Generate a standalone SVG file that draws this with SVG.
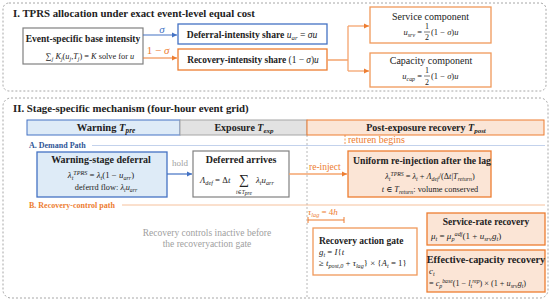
<svg xmlns="http://www.w3.org/2000/svg" width="550" height="302" viewBox="0 0 550 302" font-family="'Liberation Serif', 'DejaVu Serif', 'Times New Roman', serif">
<style>
text{font-family:'Liberation Serif','DejaVu Serif','Times New Roman',serif}
.b{font-weight:bold}
.m{font-style:italic}
.sec{fill:none;stroke:#a6a6a6;stroke-width:1;stroke-dasharray:2 2}
.gbox{fill:#fff;stroke:#808080;stroke-width:1.2}
.bbox{fill:#deebf7;stroke:#4472c4;stroke-width:1.3}
.obox{fill:#fbe5d6;stroke:#ed7d31;stroke-width:1.3}
.owbox{fill:#fff;stroke:#f0995a;stroke-width:1.3}
.bl{stroke:#4472c4;stroke-width:1.2;fill:none}
.ol{stroke:#f4a46e;stroke-width:1.3;fill:none}
.sub{font-size:70%}
</style>
<defs>
<marker id="ab" markerWidth="6" markerHeight="6" refX="5" refY="3" orient="auto" markerUnits="userSpaceOnUse"><path d="M0,0.5 L5,3 L0,5.5z" fill="#4472c4"/></marker>
<marker id="ao" markerWidth="6" markerHeight="6" refX="5" refY="3" orient="auto" markerUnits="userSpaceOnUse"><path d="M0,0.5 L5,3 L0,5.5z" fill="#ed7d31"/></marker>
</defs>

<g fill="#222">
<!-- Section I -->
<g id="section1">
<rect class="sec" x="3" y="3" width="543" height="88" rx="6"/>
<text x="13" y="17" class="b" font-size="10.8">I. TPRS allocation under exact event-level equal cost</text>
</g>

<g id="base">
<rect class="gbox" x="23" y="28" width="120" height="36"/>
<text x="83" y="42" class="b" font-size="9.5" text-anchor="middle">Event-specific base intensity</text>
<text x="90" y="58.5" font-size="8.3" text-anchor="middle"><tspan>∑</tspan><tspan class="m sub" dy="2">j</tspan><tspan class="m" dy="-2"> K</tspan><tspan class="m sub" dy="2">j</tspan><tspan dy="-2">(</tspan><tspan class="m">u</tspan><tspan class="m sub" dy="2">j</tspan><tspan dy="-2">,</tspan><tspan class="m">T</tspan><tspan class="m sub" dy="2">j</tspan><tspan dy="-2">) = </tspan><tspan class="m">K</tspan><tspan>  solve for </tspan><tspan class="m">u</tspan></text>
</g>

<g id="deferral">
<rect x="178" y="24" width="149" height="20" fill="#fff" stroke="#4472c4" stroke-width="1.3"/>
<text x="252" y="37.5" font-size="9.6" text-anchor="middle"><tspan class="b">Deferral-intensity share</tspan><tspan class="m">  u</tspan><tspan class="m sub" dy="2">ar</tspan><tspan dy="-2"> = </tspan><tspan class="m">σu</tspan></text>
</g>

<g id="recovery">
<rect x="178" y="49" width="149" height="21" fill="#fff" stroke="#ed7d31" stroke-width="1.3"/>
<text x="253" y="63" font-size="9.4" text-anchor="middle"><tspan class="b">Recovery-intensity share</tspan><tspan> (1 − </tspan><tspan class="m">σ</tspan><tspan>)</tspan><tspan class="m">u</tspan></text>
</g>

<g id="service">
<rect class="owbox" x="370" y="7" width="121" height="36"/>
<text x="430.5" y="19.5" font-size="10" text-anchor="middle">Service component</text>
<text x="422" y="35" font-size="8.5" text-anchor="end"><tspan class="m">u</tspan><tspan class="m sub" dy="1.5">srv</tspan><tspan dy="-1.5"> =</tspan></text>
<text x="427" y="29" font-size="8" text-anchor="middle">1</text>
<line x1="424" y1="32" x2="430" y2="32" stroke="#222" stroke-width="0.6"/>
<text x="427" y="39.5" font-size="8" text-anchor="middle">2</text>
<text x="431" y="35" font-size="8.5">(1 − <tspan class="m">σ</tspan>)<tspan class="m">u</tspan></text>
</g>

<g id="capacity">
<rect class="owbox" x="370" y="53" width="121" height="34"/>
<text x="431" y="63.5" font-size="10" text-anchor="middle">Capacity component</text>
<text x="422" y="79" font-size="8.5" text-anchor="end"><tspan class="m">u</tspan><tspan class="m sub" dy="1.5">cap</tspan><tspan dy="-1.5"> =</tspan></text>
<text x="427" y="73" font-size="8" text-anchor="middle">1</text>
<line x1="424" y1="76" x2="430" y2="76" stroke="#222" stroke-width="0.6"/>
<text x="427" y="84.5" font-size="8" text-anchor="middle">2</text>
<text x="431" y="79" font-size="8.5">(1 − <tspan class="m">σ</tspan>)<tspan class="m">u</tspan></text>
</g>

<!-- Section II -->
<g id="section2">
<rect class="sec" x="3" y="98" width="545" height="200" rx="8"/>
<text x="13" y="112" class="b" font-size="10.8">II. Stage-specific mechanism (four-hour event grid)</text>
<line x1="307" y1="135" x2="307" y2="298" stroke="#a6a6a6" stroke-width="0.8" stroke-dasharray="2 2"/>
</g>

<g id="hdr-warning">
<rect x="27" y="120" width="153" height="15" fill="#deebf7" stroke="#4472c4" stroke-width="1"/>
<text x="106" y="131" class="b" font-size="10.5" text-anchor="middle">Warning <tspan class="m">T</tspan><tspan class="m sub" dy="2">pre</tspan></text>
</g>
<g id="hdr-exposure">
<rect x="180" y="120" width="127" height="15" fill="#e2e2e2" stroke="#a6a6a6" stroke-width="1"/>
<text x="244" y="131" class="b" font-size="10" text-anchor="middle">Exposure <tspan class="m">T</tspan><tspan class="m sub" dy="2">exp</tspan></text>
</g>
<g id="hdr-post">
<rect x="307" y="120" width="237" height="15" fill="#fbe5d6" stroke="#ed7d31" stroke-width="1"/>
<text x="426" y="131" class="b" font-size="10" text-anchor="middle">Post-exposure recovery <tspan class="m">T</tspan><tspan class="m sub" dy="2">post</tspan></text>
</g>

<g id="return-begins">
<line x1="345" y1="135" x2="345" y2="146" stroke="#ed7d31" stroke-width="0.8" stroke-dasharray="2 1.5"/>
<text x="348" y="143" font-size="10" fill="#ed7d31">returen begins</text>
</g>

<g id="lane-a">
<text x="29" y="148" class="b" font-size="8" fill="#2f5597">A. Demand Path</text>
<line x1="92" y1="145.5" x2="545" y2="145.5" stroke="#b4c7e7" stroke-width="0.8"/>
</g>

<g id="warning-deferral">
<rect class="bbox" x="37" y="152" width="130" height="45"/>
<text x="101" y="162.5" class="b" font-size="10" text-anchor="middle">Warning-stage deferral</text>
<text x="101" y="178" font-size="8.8" text-anchor="middle"><tspan class="m">λ</tspan><tspan class="m sub" dy="2">t</tspan><tspan class="m sub" dy="-5">TPRS</tspan><tspan dy="3"> = </tspan><tspan class="m">λ</tspan><tspan class="m sub" dy="2">t</tspan><tspan dy="-2">(1 − </tspan><tspan class="m">u</tspan><tspan class="m sub" dy="2">arr</tspan><tspan dy="-2">)</tspan></text>
<text x="106" y="190" font-size="8.3" text-anchor="middle">deferrd flow: <tspan class="m">λ</tspan><tspan class="m sub" dy="2">t</tspan><tspan class="m" dy="-2">u</tspan><tspan class="m sub" dy="2">arr</tspan></text>
</g>

<g id="deferred-arrives">
<rect class="gbox" x="193" y="151" width="96" height="46"/>
<text x="241" y="163" class="b" font-size="10" text-anchor="middle">Deferred arrives</text>
<text x="200" y="182.5" font-size="8.8"><tspan class="m">Λ</tspan><tspan class="m sub" dy="2">def</tspan><tspan dy="-2"> = Δ</tspan><tspan class="m">t</tspan></text>
<text x="244" y="184" font-size="14" text-anchor="middle">∑</text>
<text x="244" y="193.5" font-size="5.5" text-anchor="middle" class="m">t∈T<tspan dy="1.2">pre</tspan></text>
<text x="256" y="182.5" font-size="8.8"><tspan class="m">λ</tspan><tspan class="m sub" dy="2">t</tspan><tspan class="m" dy="-2">u</tspan><tspan class="m sub" dy="2">arr</tspan></text>
</g>

<g id="uniform">
<rect class="obox" x="348" y="151" width="143" height="46"/>
<text x="422" y="163.5" class="b" font-size="9.7" text-anchor="middle">Uniform re-injection after the lag</text>
<text x="430" y="178.5" font-size="8.3" text-anchor="middle"><tspan class="m">λ</tspan><tspan class="m sub" dy="2">t</tspan><tspan class="m sub" dy="-5">TPRS</tspan><tspan dy="3"> = </tspan><tspan class="m">λ</tspan><tspan class="m sub" dy="2">t</tspan><tspan dy="-2"> + </tspan><tspan class="m">Λ</tspan><tspan class="m sub" dy="2">def</tspan><tspan dy="-2">/(Δ</tspan><tspan class="m">t</tspan><tspan>|</tspan><tspan class="m">T</tspan><tspan class="m sub" dy="2">return</tspan><tspan dy="-2">)</tspan></text>
<text x="430" y="191.5" font-size="8.3" text-anchor="middle"><tspan class="m">t</tspan> ∈ <tspan class="m">T</tspan><tspan class="m sub" dy="2">return</tspan><tspan dy="-2">: volume conserved</tspan></text>
</g>

<g id="lane-b">
<text x="29" y="208" class="b" font-size="8" fill="#ed7d31">B. Recovery-control path</text>
<line x1="122" y1="205" x2="545" y2="205" stroke="#f4b183" stroke-width="0.8"/>
</g>

<g id="inactive-note">
<text x="207" y="236" font-size="9.5" text-anchor="middle" fill="#a0a0a0">Recovery controls inactive before</text>
<text x="207" y="246.5" font-size="9.5" text-anchor="middle" fill="#a0a0a0">the recoveryaction gate</text>
</g>

<g id="tau-lag">
<text x="308" y="215" font-size="9" fill="#ed7d31"><tspan class="m">τ</tspan><tspan class="m sub" dy="2">lag</tspan><tspan dy="-2"> = 4</tspan><tspan class="m">h</tspan></text>
<path d="M308,220 H344 M308,217 V223 M344,217 V223" stroke="#ed7d31" stroke-width="1" fill="none"/>
</g>

<g id="gate">
<rect class="owbox" x="313" y="228" width="104" height="47"/>
<text x="319" y="244" class="b" font-size="9.5">Recovery action gate</text>
<text x="319" y="255" font-size="8.8"><tspan class="m">g</tspan><tspan class="m sub" dy="2">t</tspan><tspan dy="-2"> = </tspan><tspan class="m">I</tspan><tspan>{</tspan><tspan class="m">t</tspan></text>
<text x="319" y="265.5" font-size="8.8">≥ <tspan class="m">t</tspan><tspan class="m sub" dy="2">post,0</tspan><tspan dy="-2"> + </tspan><tspan class="m">τ</tspan><tspan class="m sub" dy="2">lag</tspan><tspan dy="-2">} × {</tspan><tspan class="m">A</tspan><tspan class="m sub" dy="2">t</tspan><tspan dy="-2"> = 1}</tspan></text>
</g>

<g id="service-rate">
<rect class="obox" x="427" y="213" width="118" height="32"/>
<text x="486" y="225" class="b" font-size="9.5" text-anchor="middle">Service-rate recovery</text>
<text x="431" y="238.5" font-size="9"><tspan class="m">μ</tspan><tspan class="m sub" dy="2">t</tspan><tspan dy="-2"> = </tspan><tspan class="m">μ</tspan><tspan class="m sub" dy="2">p</tspan><tspan class="m sub" dy="-5">adj</tspan><tspan dy="3">(1 + </tspan><tspan class="m">u</tspan><tspan class="m sub" dy="2">srv</tspan><tspan class="m" dy="-2">g</tspan><tspan class="m sub" dy="2">t</tspan><tspan dy="-2">)</tspan></text>
</g>

<g id="effective-capacity">
<rect class="obox" x="427" y="250" width="118" height="42"/>
<text x="486" y="262.5" class="b" font-size="10.2" text-anchor="middle">Effective-capacity recovery</text>
<text x="429" y="274" font-size="8.8"><tspan class="m">c</tspan><tspan class="m sub" dy="2">t</tspan></text>
<text x="429" y="285.5" font-size="8.2">= <tspan class="m">c</tspan><tspan class="m sub" dy="2">p</tspan><tspan class="m sub" dy="-5">base</tspan><tspan dy="3">(1 − </tspan><tspan class="m">l</tspan><tspan class="m sub" dy="2">t</tspan><tspan class="m sub" dy="-5">rep</tspan><tspan dy="3">) × (1 + </tspan><tspan class="m">u</tspan><tspan class="m sub" dy="2">srv</tspan><tspan class="m" dy="-2">g</tspan><tspan class="m sub" dy="2">t</tspan><tspan dy="-2">)</tspan></text>
</g>

<!-- Connectors -->
<g id="connectors">
<line class="bl" x1="143" y1="35" x2="177" y2="35" marker-end="url(#ab)"/>
<text x="162" y="32.5" font-size="11" text-anchor="middle" class="m" fill="#4472c4">σ</text>
<line x1="143" y1="58" x2="177" y2="58" stroke="#ed7d31" stroke-width="1.2" marker-end="url(#ao)"/>
<text x="158" y="54" font-size="11" text-anchor="middle" fill="#ed7d31">1 − <tspan class="m">σ</tspan></text>
<path class="ol" d="M327,60 H348 M348,26 V71"/>
<line class="ol" x1="348" y1="26" x2="369" y2="26" marker-end="url(#ao)"/>
<line class="ol" x1="348" y1="71" x2="369" y2="71" marker-end="url(#ao)"/>
<line class="bl" x1="167" y1="174" x2="192" y2="174" marker-end="url(#ab)"/>
<text x="180" y="166" font-size="9" text-anchor="middle" fill="#a0a0a0">hold</text>
<line class="ol" x1="289" y1="174" x2="347" y2="174" marker-end="url(#ao)"/>
<text x="309" y="169.5" font-size="9.5" fill="#ed7d31">re-inject</text>
</g>
</g>
</svg>
